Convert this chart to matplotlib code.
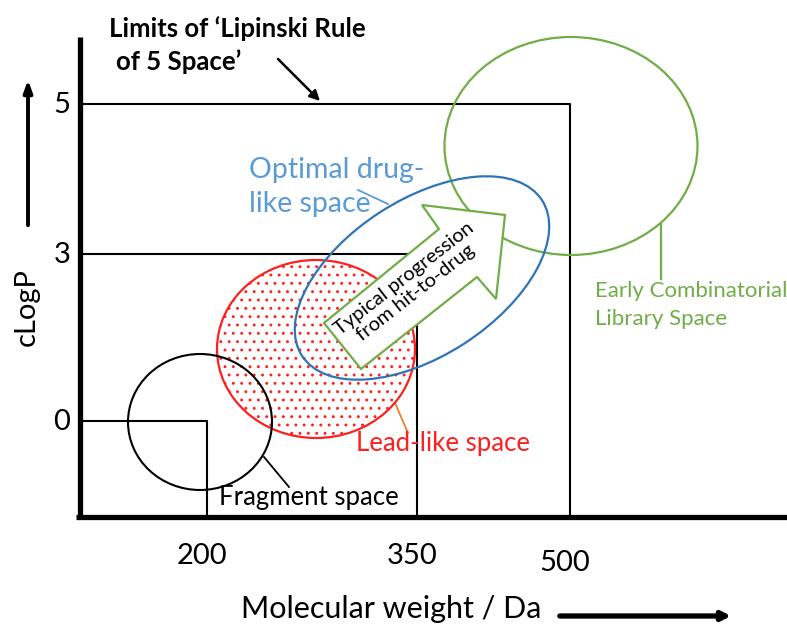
import matplotlib
matplotlib.use("Agg")
import matplotlib.pyplot as plt
from matplotlib.patches import Ellipse, Polygon

plt.rcParams['font.family'] = ['Lato', 'DejaVu Sans']
plt.rcParams['hatch.linewidth'] = 0.9

# diagram drawn in pixel-like units (x to the right, y downward)
W, H = 787, 628

# axis frame
y_axis = [(80, 37), (80, 519)]
x_axis = [(76, 517), (787, 517)]

# property limits
y_ticks = ["0", "3", "5"]
y_tick_pos = [421, 254, 104]
x_ticks = ["200", "350", "500"]
x_tick_pos = [207, 417, 570]
x_tick_text_y = [556, 556, 563]

# regions: centre x, centre y, width, height, angle
fragment = (200, 422, 144, 136, 0)
lead_like = (316, 349, 198, 178, 0)
drug_like = (422, 278, 286, 156, 33)
combi = (571, 146, 253, 218, 0)

# block arrow "hit-to-drug"
arrow_pts = [(324, 323), (439, 229), (422, 205), (505, 215),
             (496, 299), (477, 277), (361, 369)]

black = "black"
red = "#FF1F1F"
blue = "#2E75B6"
light_blue = "#5B9BD5"
green = "#70AD47"
orange = "#ED7D31"

fig = plt.figure(figsize=(W / 100, H / 100), dpi=100)
ax = fig.add_axes([0, 0, 1, 1])
ax.set_xlim(0, W)
ax.set_ylim(H, 0)
ax.axis("off")

# thick axes
ax.plot(*zip(*y_axis), color=black, lw=3.8, solid_capstyle="butt")
ax.plot(*zip(*x_axis), color=black, lw=3.8, solid_capstyle="butt")

# nested limit boxes
for i in range(3):
    ax.plot([83, x_tick_pos[i], x_tick_pos[i]], [y_tick_pos[i], y_tick_pos[i], 517],
            color=black, lw=1.5)
    ax.text(62, y_tick_pos[i] + 1, y_ticks[i], fontsize=21, ha="center", va="center")
    ax.text(x_tick_pos[i] - 5, x_tick_text_y[i], x_ticks[i], fontsize=21,
            ha="center", va="center")

# axis titles with arrows
ax.text(27, 307, "cLogP", fontsize=21, rotation=90, ha="center", va="center")
ax.annotate("", xy=(28, 77), xytext=(28, 228),
            arrowprops=dict(arrowstyle="-|>,head_length=0.7,head_width=0.25",
                            color=black, lw=2.8))
ax.text(391, 609, "Molecular weight / Da", fontsize=22, ha="center", va="center")
ax.annotate("", xy=(734, 616), xytext=(557, 616),
            arrowprops=dict(arrowstyle="-|>,head_length=0.5,head_width=0.25",
                            color=black, lw=3.8))

# Lipinski label
ax.text(109, 29, "Limits of \u2018Lipinski Rule", fontsize=18.5, fontweight="bold",
        ha="left", va="center")
ax.text(116, 62, "of 5 Space\u2019", fontsize=18.5, fontweight="bold",
        ha="left", va="center")
ax.annotate("", xy=(322, 103), xytext=(276, 57),
            arrowprops=dict(arrowstyle="-|>,head_length=0.6,head_width=0.3",
                            color=black, lw=1.8))

# regions
cx, cy, w, h, a = combi
ax.add_patch(Ellipse((cx, cy), w, h, angle=-a, fill=False, ec=green, lw=1.6, zorder=3))
cx, cy, w, h, a = lead_like
ax.add_patch(Ellipse((cx, cy), w, h, angle=-a, fc="none", ec=red, hatch="..",
                     lw=0, zorder=2))
ax.add_patch(Ellipse((cx, cy), w, h, angle=-a, fill=False, ec=red, lw=1.6, zorder=3))
cx, cy, w, h, a = fragment
ax.add_patch(Ellipse((cx, cy), w, h, angle=-a, fill=False, ec=black, lw=1.5, zorder=3))
cx, cy, w, h, a = drug_like
ax.add_patch(Ellipse((cx, cy), w, h, angle=-a, fill=False, ec=blue, lw=1.6, zorder=4))

ax.add_patch(Polygon(arrow_pts, closed=True, fc="white", ec=green, lw=1.6, zorder=5))
ax.text(410, 286, "Typical progression\nfrom hit-to-drug", fontsize=14.5,
        rotation=38, ha="center", va="center", linespacing=1.05, zorder=6,
        rotation_mode="anchor")

# labels with leader lines
ax.plot([264, 289], [457, 487], color=black, lw=1.3)
ax.text(309, 497, "Fragment space", fontsize=18.5, ha="center", va="center")
ax.plot([395, 408], [403, 433], color=orange, lw=1.3)
ax.text(443, 444, "Lead-like space", fontsize=18.5, color=red, ha="center", va="center")
ax.plot([358, 388], [190, 204], color=light_blue, lw=1.3)
ax.text(249, 170, "Optimal drug-", fontsize=20.5, color=light_blue, ha="left", va="center")
ax.text(249, 204, "like space", fontsize=20.5, color=light_blue, ha="left", va="center")
ax.plot([661, 661], [224, 279], color=green, lw=1.6)
ax.text(595, 291, "Early Combinatorial", fontsize=16, color=green, ha="left", va="center")
ax.text(595, 319, "Library Space", fontsize=16, color=green, ha="left", va="center")

fig.savefig("out.png", dpi=100)
